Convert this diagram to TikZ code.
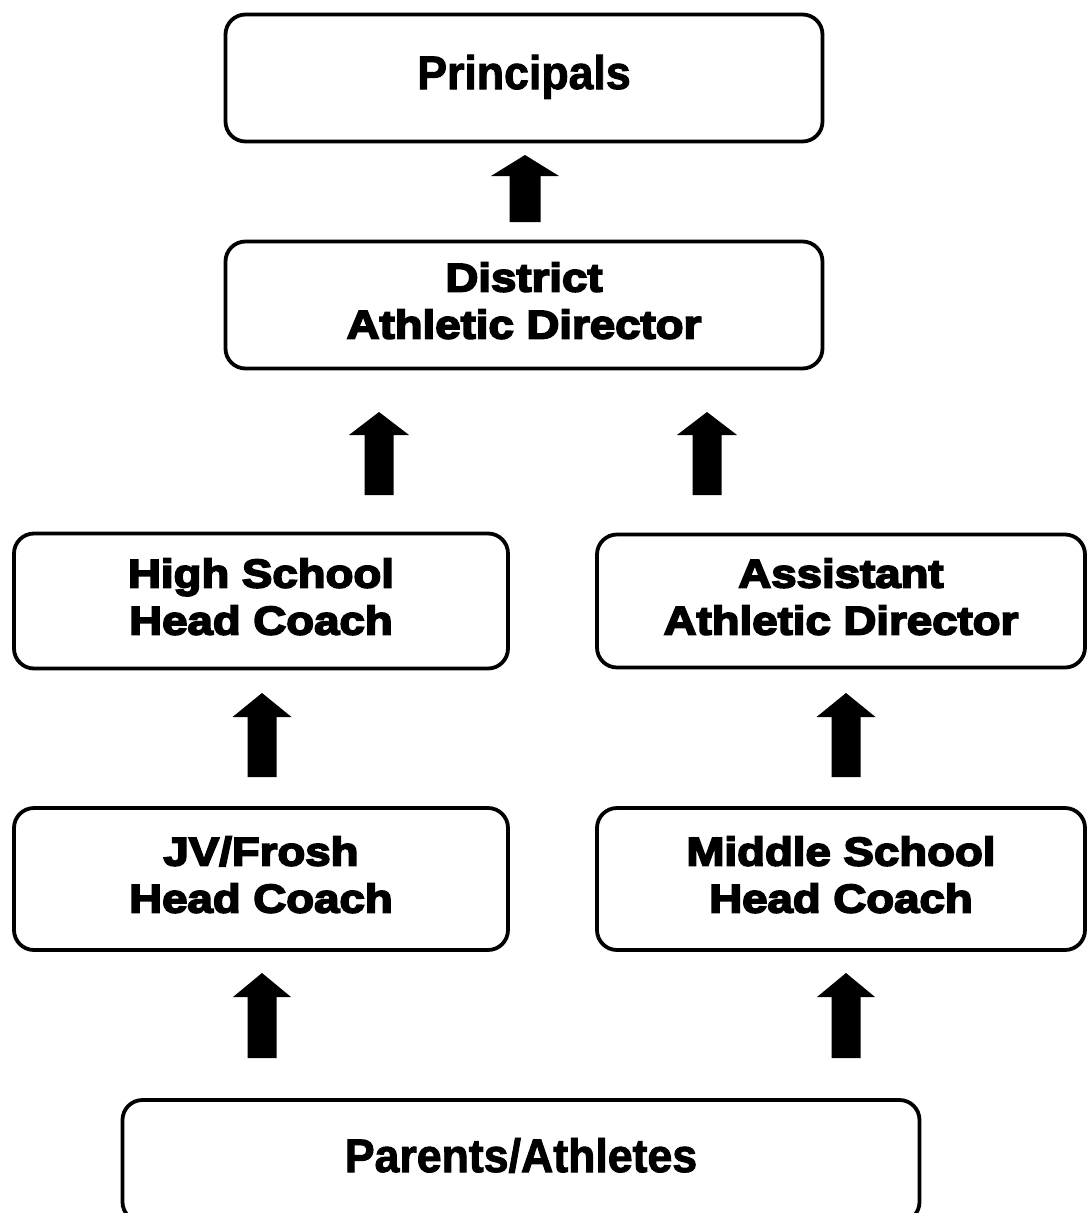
\documentclass[tikz,border=0pt]{standalone}
\usepackage{fontspec}
\setmainfont{Liberation Sans}
\newfontfamily\heavyfont{Liberation Sans Bold}[FakeBold=4.5,FakeStretch=1.14]
\newfontfamily\narrowfont{Liberation Sans Bold}[FakeBold=2,FakeStretch=0.95]
\begin{document}
\begin{tikzpicture}[x=1pt,y=-1pt,
  box/.style={draw=black, line width=3.8pt, rounded corners=20pt, align=center,
    inner sep=0pt, text depth=9pt, font=\heavyfont\fontsize{40}{47}\selectfont},
  nbox/.style={box, text depth=12pt, font=\narrowfont\fontsize{47}{50}\selectfont},
  pics/uparrow/.style args={#1/#2/#3/#4}{code={%
    % #1 total height, #2 head length, #3 head width, #4 shaft width
    \fill[black] (-#4/2,0) -- (-#4/2,-#1+#2) -- (-#3/2,-#1+#2) -- (0,-#1)
      -- (#3/2,-#1+#2) -- (#4/2,-#1+#2) -- (#4/2,0) -- cycle;}}]
\useasboundingbox (0,0) rectangle (1088,1213);
\fill[white] (0,0) rectangle (1088,1213);

\node[nbox, minimum width=597pt, minimum height=127pt] (prin) at (524,78) {Principals};
\node[box, minimum width=597pt, minimum height=127pt] (dad) at (524,305) {District\\Athletic Director};
\node[box, minimum width=494pt, minimum height=135pt] (hs) at (261,601) {High School\\Head Coach};
\node[box, minimum width=488pt, minimum height=133pt] (aad) at (841,601) {Assistant\\Athletic Director};
\node[box, minimum width=494pt, minimum height=142pt] (jv) at (261,879) {JV/Frosh\\Head Coach};
\node[box, minimum width=488pt, minimum height=142pt] (ms) at (841,879) {Middle School\\Head Coach};
\node[nbox, minimum width=797pt, minimum height=122pt] (par) at (521,1161) {Parents/Athletes};

\coordinate (a1) at (525,222);
\coordinate (a2) at (379,495);
\coordinate (a3) at (707,495);
\coordinate (a4) at (262,777);
\coordinate (a5) at (846,777);
\coordinate (a6) at (262,1058);
\coordinate (a7) at (846,1058);

\pic at (a1) {uparrow={67/21/68/31}};
\pic at (a2) {uparrow={83/23/60/29}};
\pic at (a3) {uparrow={83/23/60/29}};
\pic at (a4) {uparrow={84/24/59/29}};
\pic at (a5) {uparrow={84/24/59/29}};
\pic at (a6) {uparrow={85/24/58/29}};
\pic at (a7) {uparrow={85/24/58/29}};
\end{tikzpicture}
\end{document}
